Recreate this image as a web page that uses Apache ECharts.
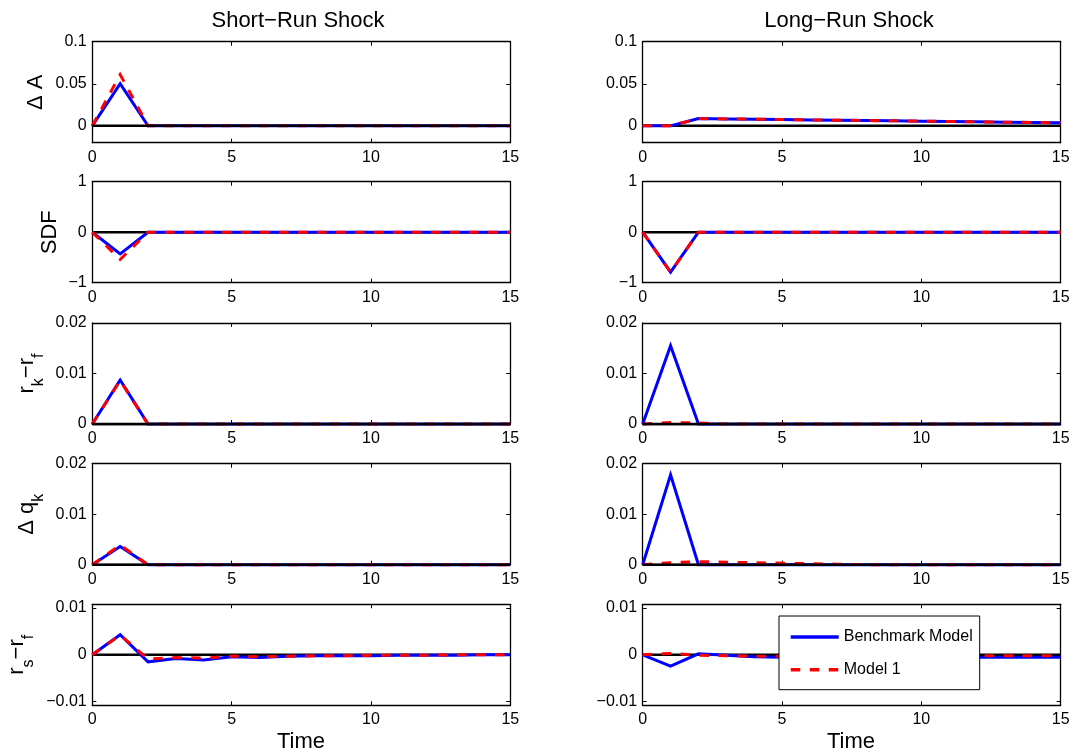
<!DOCTYPE html>
<html>
<head>
<meta charset="utf-8">
<script src="https://cdn.jsdelivr.net/npm/echarts@6/dist/echarts.min.js"></script>
<style>
html,body{margin:0;padding:0;background:#fff;}
#chart{width:1073px;height:756px;}
</style>
</head>
<body>
<div id="chart"></div>
<script>
// ---------------- DATA ----------------
const time = [0,1,2,3,4,5,6,7,8,9,10,11,12,13,14,15];

// Short-run shock
const srDA_bench   = [0,0.050,0,0,0,0,0,0,0,0,0,0,0,0,0,0];
const srDA_model1  = [0,0.061,0,0,0,0,0,0,0,0,0,0,0,0,0,0];
const srSDF_bench  = [0,-0.43,0,0,0,0,0,0,0,0,0,0,0,0,0,0];
const srSDF_model1 = [0,-0.54,0,0,0,0,0,0,0,0,0,0,0,0,0,0];
const srRK_bench   = [0,0.0087,0,0,0,0,0,0,0,0,0,0,0,0,0,0];
const srRK_model1  = [0,0.0086,0,0,0,0,0,0,0,0,0,0,0,0,0,0];
const srDQ_bench   = [0,0.0036,0,0,0,0,0,0,0,0,0,0,0,0,0,0];
const srDQ_model1  = [0,0.0039,0,0,0,0,0,0,0,0,0,0,0,0,0,0];
const srRS_bench   = [0,0.0043,-0.0015,-0.0008,-0.0011,-0.0004,-0.0006,-0.0003,-0.0002,-0.0002,-0.0002,-0.0001,-0.0001,-0.0001,0,0];
const srRS_model1  = [0,0.0042,-0.0009,-0.0006,-0.0007,-0.0003,-0.0004,-0.0003,-0.0002,-0.0002,-0.0001,-0.0001,-0.0001,0,0,0];

// Long-run shock
const lrDA_bench   = [0,0,0.0087,0.0083,0.0079,0.0075,0.0071,0.0067,0.0064,0.0060,0.0056,0.0052,0.0048,0.0044,0.0040,0.0036];
const lrDA_model1  = [0,0,0.0087,0.0083,0.0079,0.0075,0.0071,0.0067,0.0064,0.0060,0.0056,0.0052,0.0048,0.0044,0.0040,0.0036];
const lrSDF_bench  = [0,-0.79,0,0,0,0,0,0,0,0,0,0,0,0,0,0];
const lrSDF_model1 = [0,-0.79,0,0,0,0,0,0,0,0,0,0,0,0,0,0];
const lrRK_bench   = [0,0.0155,0,0,0,0,0,0,0,0,0,0,0,0,0,0];
const lrRK_model1  = [0,0.0003,0.0002,0,0,0,0,0,0,0,0,0,0,0,0,0];
const lrDQ_bench   = [0,0.0178,0,0,0,0,0,0,0,0,0,0,0,0,0,0];
const lrDQ_model1  = [0,0.0004,0.0006,0.0005,0.0004,0.0003,0.0002,0.0001,0,0,0,0,0,0,0,0];
const lrRS_bench   = [0,-0.0024,0.0002,-0.0001,-0.0004,-0.0005,-0.0005,-0.0005,-0.0005,-0.0005,-0.0005,-0.0005,-0.0005,-0.0005,-0.0005,-0.0005];
const lrRS_model1  = [0,0.0003,-0.0001,-0.0002,-0.0003,-0.0003,-0.0003,-0.0003,-0.0003,-0.0003,-0.0003,-0.0002,-0.0002,-0.0002,-0.0002,-0.0002];

// Ticks / labels
const xTicks    = [0,5,10,15];
const yTicksDA  = [0,0.05,0.1];
const yTicksSDF = [-1,0,1];
const yTicksRK  = [0,0.01,0.02];
const yTicksDQ  = [0,0.01,0.02];
const yTicksRS  = [-0.01,0,0.01];
const columnTitles = ['Short\u2212Run Shock','Long\u2212Run Shock'];
const seriesNames  = ['Benchmark Model','Model 1'];
const xAxisName    = 'Time';

// ---------------- LAYOUT / STYLE ----------------
const FF = '"Liberation Sans", Arial, Helvetica, sans-serif';
const colLeft = [92.3, 642.7];
const gridW = 418;
const rowTop = [41.7, 181.7, 323, 463.7, 604.3];
const gridH = 101;

const rows = [
  {range:[-0.02,0.1],    ticks:yTicksDA,  sr:[srDA_bench,srDA_model1],   lr:[lrDA_bench,lrDA_model1],   zeroTop:[true,false]},
  {range:[-1,1],         ticks:yTicksSDF, sr:[srSDF_bench,srSDF_model1], lr:[lrSDF_bench,lrSDF_model1], zeroTop:[false,false]},
  {range:[0,0.02],       ticks:yTicksRK,  sr:[srRK_bench,srRK_model1],   lr:[lrRK_bench,lrRK_model1],   zeroTop:[true,true]},
  {range:[0,0.02],       ticks:yTicksDQ,  sr:[srDQ_bench,srDQ_model1],   lr:[lrDQ_bench,lrDQ_model1],   zeroTop:[true,true]},
  {range:[-0.0108,0.0108], ticks:yTicksRS, sr:[srRS_bench,srRS_model1],  lr:[lrRS_bench,lrRS_model1],   zeroTop:[false,false]}
];

const fmt = v => (v < 0 ? '\u2212' : '') + String(Math.abs(v));

const grids = [], xAxes = [], yAxes = [], series = [];
const lineAxis = {show:true, onZero:false, lineStyle:{color:'#000', width:1.3}};
const tickStyle = {show:true, inside:true, length:4, lineStyle:{color:'#000', width:1}};

rows.forEach((row, r) => {
  [0,1].forEach(c => {
    const gi = grids.length;
    grids.push({left:colLeft[c], top:rowTop[r], width:gridW, height:gridH, show:false, containLabel:false});
    xAxes.push({type:'value', gridIndex:gi, min:0, max:15, interval:5, position:'bottom',
      axisLine:lineAxis, axisTick:tickStyle, splitLine:{show:false},
      axisLabel:{show:true, color:'#000', fontSize:16, fontFamily:FF, margin:6.5, formatter:fmt, customValues:xTicks}});
    xAxes.push({type:'value', gridIndex:gi, min:0, max:15, interval:5, position:'top',
      axisLine:lineAxis, axisTick:Object.assign({}, tickStyle), splitLine:{show:false}, axisLabel:{show:false}});
    yAxes.push({type:'value', gridIndex:gi, min:row.range[0], max:row.range[1], position:'left',
      axisLine:lineAxis, axisTick:Object.assign({customValues:row.ticks}, tickStyle), splitLine:{show:false},
      axisLabel:{show:true, color:'#000', fontSize:16, fontFamily:FF, margin:5.6, formatter:fmt, customValues:row.ticks}});
    yAxes.push({type:'value', gridIndex:gi, min:row.range[0], max:row.range[1], position:'right',
      axisLine:lineAxis, axisTick:Object.assign({customValues:row.ticks}, tickStyle), splitLine:{show:false},
      axisLabel:{show:false}});

    const xi = 2*gi, yi = 2*gi;
    const vals = c === 0 ? row.sr : row.lr;
    series.push({type:'line', name:'zero', xAxisIndex:xi, yAxisIndex:yi, clip:false,
      data: time.map(t => [t, 0]), symbol:'none', silent:true,
      lineStyle:{color:'#000', width:2.5}, z: row.zeroTop[c] ? 6 : 1});
    series.push({type:'line', name:seriesNames[0], xAxisIndex:xi, yAxisIndex:yi, clip:false,
      data: time.map((t,i) => [t, vals[0][i]]), symbol:'none', showSymbol:false,
      lineStyle:{color:'#0000ff', width:3, join:'miter'}, itemStyle:{color:'#0000ff'}, z:2});
    series.push({type:'line', name:seriesNames[1], xAxisIndex:xi, yAxisIndex:yi, clip:false,
      data: time.map((t,i) => [t, vals[1][i]]), symbol:'none', showSymbol:false,
      lineStyle:{color:'#ff0000', width:3, type:[9.5,9.5], join:'miter'}, itemStyle:{color:'#ff0000'}, z:3});
  });
});

const graphics = [];
const titleX = [298, 849];
columnTitles.forEach((t,c) => {
  graphics.push({type:'text', x:titleX[c], y:20.6, z:20,
    style:{text:t, fontSize:22, fontFamily:FF, fill:'#000', align:'center', verticalAlign:'middle', textAlign:'center', textVerticalAlign:'middle'}});
});
const timeX = [301, 851];
timeX.forEach(x => {
  graphics.push({type:'text', x:x, y:742, z:20,
    style:{text:xAxisName, fontSize:22, fontFamily:FF, fill:'#000', align:'center', verticalAlign:'middle', textAlign:'center', textVerticalAlign:'middle'}});
});

const richSub = {
  a:{fontSize:22, fontFamily:FF, fill:'#000', color:'#000', lineHeight:40, verticalAlign:'middle'},
  s:{fontSize:16, fontFamily:FF, fill:'#000', color:'#000', lineHeight:16, verticalAlign:'bottom'}
};
const yLabels = [
  {text:'{a|\u0394 A}', x:35.5},
  {text:'{a|SDF}', x:50},
  {text:'{a|r}{s|k}{a|\u2212r}{s|f}', x:26.5},
  {text:'{a|\u0394 q}{s|k}', x:26.5},
  {text:'{a|r}{s|s}{a|\u2212r}{s|f}', x:17}
];
yLabels.forEach((l, r) => {
  graphics.push({type:'text', x:l.x, y:rowTop[r] + gridH/2, rotation:Math.PI/2, z:20,
    style:{text:l.text, rich:richSub, fill:'#000', align:'center', verticalAlign:'middle', textAlign:'center', textVerticalAlign:'middle'}});
});

const option = {
  animation:false,
  backgroundColor:'#fff',
  grid:grids,
  xAxis:xAxes,
  yAxis:yAxes,
  series:series,
  graphic:graphics,
  legend:{
    data:seriesNames,
    orient:'vertical',
    left:779, top:616,
    padding:[13,7,12,10],
    itemWidth:48, itemHeight:16, itemGap:16.7,
    backgroundColor:'#fff', borderColor:'#000', borderWidth:1,
    textStyle:{fontSize:16, fontFamily:FF, color:'#000'},
    itemStyle:{opacity:0, borderWidth:0},
    lineStyle:{width:3.5},
    z:10,
    selectedMode:false
  }
};

const chart = echarts.init(document.getElementById('chart'), null, {renderer:'canvas'});
chart.setOption(option);
</script>
</body>
</html>
